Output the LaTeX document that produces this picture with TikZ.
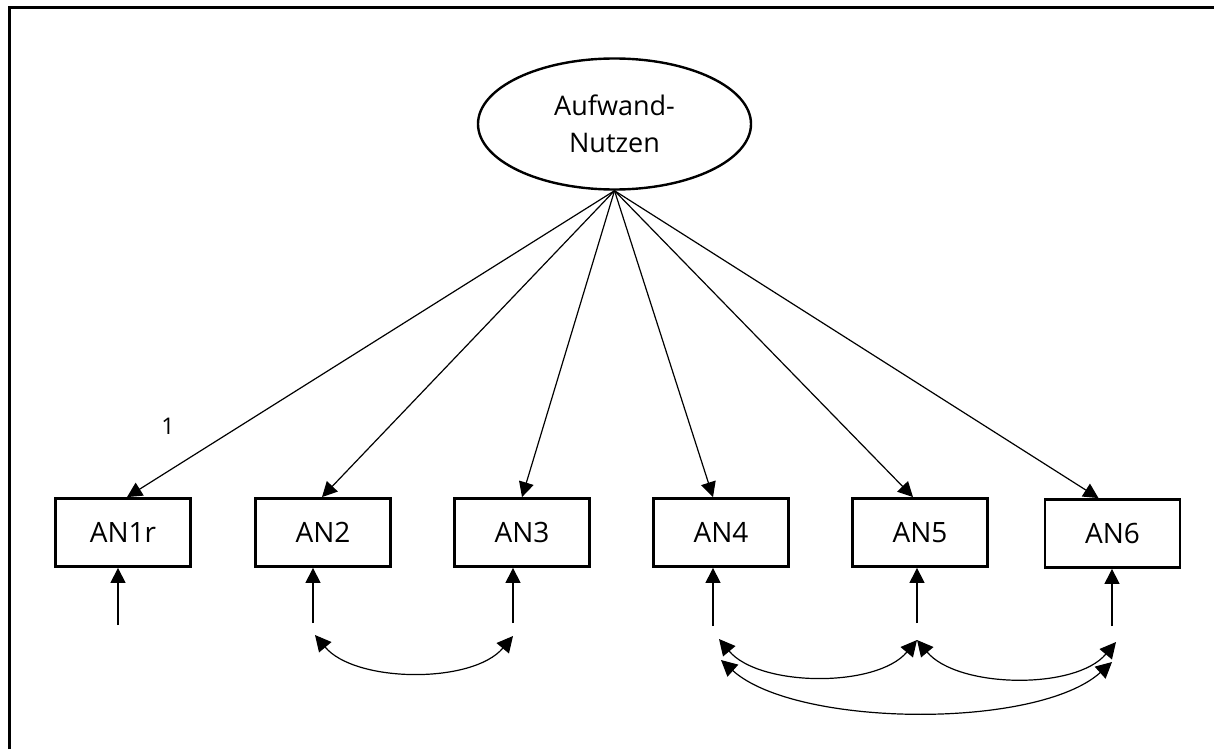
\documentclass[tikz,border=0pt]{standalone}
\usepackage{fontspec}
\setmainfont{Open Sans}
\usetikzlibrary{arrows.meta,shapes.geometric}
\begin{document}
\begin{tikzpicture}[x=1pt,y=-1pt,
  obs/.style={draw,rectangle,line width=2.8pt,minimum width=135pt,minimum height=68pt,
    inner sep=0pt,font=\fontsize{28}{30}\selectfont},
  lat/.style={draw,ellipse,line width=2.4pt,minimum width=273pt,minimum height=131pt,
    inner sep=0pt,align=center,font=\fontsize{27}{37}\selectfont},
  load/.style={line width=1.2pt,-{Triangle[length=15pt,width=15pt]}},
  cov/.style={line width=1.2pt,{Triangle[length=16pt,width=16pt]}-{Triangle[length=16pt,width=16pt]}},
  lbl/.style={font=\fontsize{23}{24}\selectfont,inner sep=0pt}
]
\useasboundingbox (0,0) rectangle (1214,749);
% outer frame
\draw[line width=3pt] (9,749) -- (9,8) -- (1214,8);

% latent factor
\node[lat] (f) at (614.5,124) {Aufwand-\\Nutzen};

% indicators
\node[obs] (a1) at (123,532.5)    {AN1r};
\node[obs] (a2) at (323,532.5)    {AN2};
\node[obs] (a3) at (522,532.5)    {AN3};
\node[obs] (a4) at (721,532.5)    {AN4};
\node[obs] (a5) at (920,532.5)    {AN5};
\node[obs] (a6) at (1112.5,533.5) {AN6};

% loadings
\draw[load] (f.south) -- ([xshift=4pt]a1.north);
\draw[load] (f.south) -- ([xshift=-1pt]a2.north);
\draw[load] (f.south) -- (a3.north);
\draw[load] (f.south) -- ([xshift=-8pt]a4.north);
\draw[load] (f.south) -- ([xshift=-7pt]a5.north);
\draw[load] (f.south) -- ([xshift=-14pt]a6.north);
\node[lbl] (one) at (168,426) {1};

% residual inputs
\coordinate (e1) at (118,625);
\coordinate (e2) at (313,623);
\coordinate (e3) at (513,623);
\coordinate (e4) at (713,626);
\coordinate (e5) at (917,623);
\coordinate (e6) at (1112,626);
\foreach \i in {1,...,6}{
  \draw[load] (e\i) -- (e\i |- a\i.south);
}

% error covariances
\coordinate (c2) at (315,635);
\coordinate (c3) at (513,636);
\coordinate (d4) at (719,639);
\coordinate (d5) at (917,640);
\coordinate (d6) at (1116,642);
\coordinate (g4) at (721,660);
\coordinate (g6) at (1112,662);
\draw[cov] (c2) to[out=-50,in=-130,looseness=0.81] (c3);
\draw[cov] (d4) to[out=-50,in=-130,looseness=0.81] (d5);
\draw[cov] (d5) to[out=-50,in=-130,looseness=0.81] (d6);
\draw[cov] (g4) to[out=-42,in=-138,looseness=0.66] (g6);
\end{tikzpicture}
\end{document}
